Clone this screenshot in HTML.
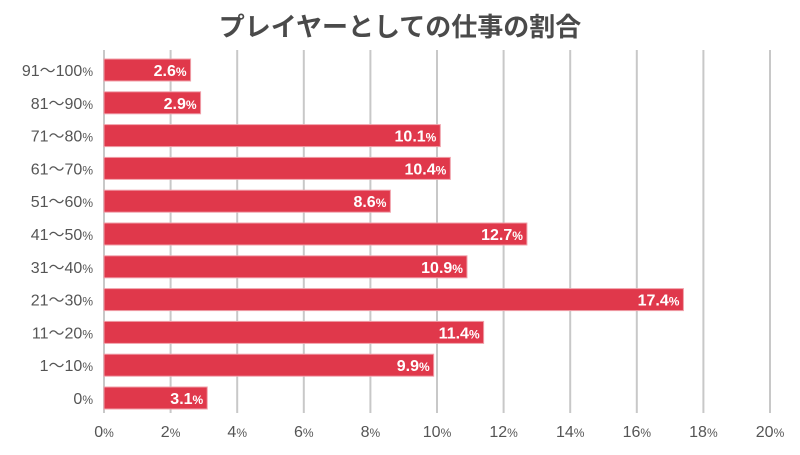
<!DOCTYPE html>
<html><head><meta charset="utf-8"><style>
body{margin:0;background:#fff;width:800px;height:450px;overflow:hidden}
text{font-family:"Liberation Sans","Noto Sans CJK JP",sans-serif}
</style></head><body>
<svg width="800" height="450" xmlns="http://www.w3.org/2000/svg">
<text x="400" y="36" text-anchor="middle" font-size="26" font-weight="bold" fill="#4a4a4a" style="font-family:'Noto Sans CJK JP',sans-serif">プレイヤーとしての仕事の割合</text>
<g stroke="#c8c8c8" stroke-width="2">
<line x1="104" y1="50" x2="104" y2="413"/><line x1="170.6" y1="50" x2="170.6" y2="413"/><line x1="237.2" y1="50" x2="237.2" y2="413"/><line x1="303.8" y1="50" x2="303.8" y2="413"/><line x1="370.4" y1="50" x2="370.4" y2="413"/><line x1="437" y1="50" x2="437" y2="413"/><line x1="503.6" y1="50" x2="503.6" y2="413"/><line x1="570.2" y1="50" x2="570.2" y2="413"/><line x1="636.8" y1="50" x2="636.8" y2="413"/><line x1="703.4" y1="50" x2="703.4" y2="413"/><line x1="770" y1="50" x2="770" y2="413"/>
</g>
<g id="ax" font-size="16" fill="#555" text-anchor="middle"></g>
<g id="bars"></g>
</svg>
<script>
var ax="";for(var k=0;k<=10;k++){ax+='<text x="'+(104+k*66.6)+'" y="437">'+(k*2)+'<tspan font-size="12">%</tspan></text>';}
document.getElementById("ax").innerHTML=ax;
var d=[["91～100",2.6],["81～90",2.9],["71～80",10.1],["61～70",10.4],["51～60",8.6],["41～50",12.7],["31～40",10.9],["21～30",17.4],["11～20",11.4],["1～10",9.9],["0",3.1]];
var g=document.getElementById("bars"),h="";
d.forEach(function(r,i){var c=70+i*32.8,w=r[1]*33.3,e=104+w;
h+='<rect x="104" y="'+(c-11)+'" width="'+w+'" height="22" fill="#e0384b" stroke="#f0a0aa" stroke-width="1"/>';
h+='<text x="93" y="'+(c+6)+'" font-size="16" fill="#555" text-anchor="end">'+r[0]+'<tspan font-size="12">%</tspan></text>';
h+='<text x="'+(e-4)+'" y="'+(c+6)+'" font-size="16" font-weight="bold" fill="#fff" text-anchor="end">'+r[1].toFixed(1)+'<tspan font-size="12">%</tspan></text>';});
g.innerHTML=h;
</script>
</body></html>
